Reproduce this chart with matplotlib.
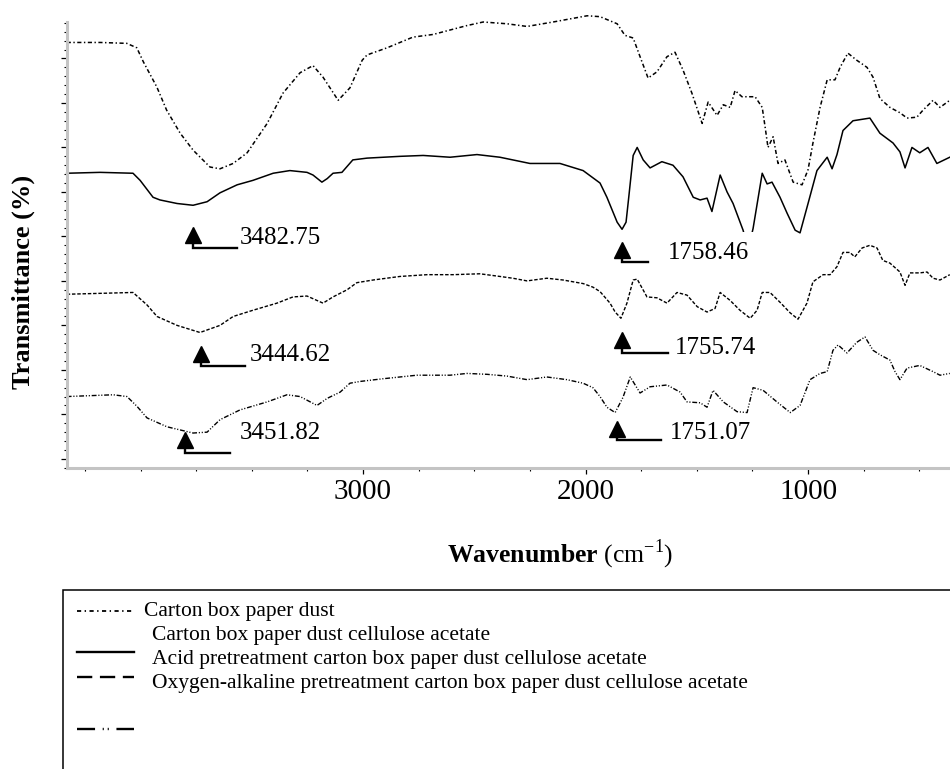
import matplotlib
matplotlib.use('Agg')
import matplotlib.pyplot as plt
from matplotlib.patches import Rectangle
from matplotlib.lines import Line2D
from matplotlib.ticker import MultipleLocator, FixedLocator

# FTIR spectra, values (offset transmittance, arbitrary units)
wn_dust = [4332, 4182, 4062, 4017, 3987, 3927, 3883, 3822, 3764, 3688, 3643, 3584, 3521, 3431, 3360,
           3283, 3225, 3180, 3112, 3059, 3004, 2982, 2892, 2776, 2685, 2533, 2460, 2353, 2263, 2146,
           1993, 1935, 1858, 1823, 1786, 1755, 1719, 1679, 1634, 1598, 1562, 1522, 1476, 1449, 1409,
           1381, 1350, 1328, 1297, 1238, 1206, 1193, 1180, 1157, 1135, 1104, 1067, 1027, 1000, 978,
           946, 914, 879, 856, 821, 781, 735, 708, 677, 632, 587, 555, 511, 483, 438, 407, 363]
t_dust = [46.8, 46.8, 46.7, 46.2, 44.6, 41.8, 39.2, 36.6, 34.7, 32.8, 32.6, 33.2, 34.4, 37.7, 41.1,
          43.4, 44.2, 42.9, 40.3, 41.7, 44.8, 45.4, 46.2, 47.4, 47.7, 48.7, 49.1, 48.9, 48.6, 49.1,
          49.8, 49.7, 48.9, 47.6, 47.3, 45.2, 42.8, 43.5, 45.2, 45.7, 43.7, 41.1, 37.7, 40.1, 38.6,
          39.8, 39.5, 41.4, 40.7, 40.7, 39.5, 37.3, 35.0, 36.2, 33.2, 33.6, 31.1, 30.8, 32.5, 35.5,
          39.5, 42.6, 42.6, 44.0, 45.6, 44.8, 44.0, 42.9, 40.5, 39.5, 38.9, 38.3, 38.4, 39.2, 40.3, 39.5, 40.3]

wn_ca = [4332, 4182, 4034, 4002, 3944, 3913, 3836, 3764, 3701, 3643, 3566, 3495, 3404, 3329, 3252,
         3225, 3185, 3161, 3135, 3095, 3046, 2982, 2834, 2730, 2609, 2488, 2385, 2250, 2115, 2011,
         1935, 1904, 1858, 1836, 1818, 1805, 1786, 1768, 1741, 1710, 1657, 1607, 1562, 1516, 1485,
         1454, 1432, 1395, 1364, 1337, 1292, 1269, 1247, 1206, 1184, 1162, 1126, 1094, 1058, 1036,
         1000, 960, 914, 892, 870, 843, 798, 722, 677, 618, 587, 564, 533, 498, 461, 421, 363]
t_ca = [32.1, 32.2, 32.1, 31.3, 29.4, 29.1, 28.7, 28.5, 28.9, 29.9, 30.8, 31.3, 32.1, 32.4, 32.2,
        31.9, 31.1, 31.5, 32.1, 32.2, 33.6, 33.8, 34.0, 34.1, 33.9, 34.2, 33.9, 33.2, 33.2, 32.4,
        31.0, 29.4, 26.6, 25.8, 26.6, 29.6, 34.1, 35.0, 33.6, 32.7, 33.4, 33.0, 31.7, 29.4, 29.1,
        29.3, 27.8, 31.9, 30.0, 28.7, 25.7, 23.5, 25.9, 32.1, 30.9, 31.1, 29.4, 27.6, 25.7, 25.4,
        28.7, 32.4, 33.9, 32.6, 34.2, 36.9, 38.0, 38.3, 36.6, 35.5, 34.5, 32.7, 35.0, 34.4, 35.0, 33.2, 33.9]

wn_acid = [4332, 4182, 4034, 3971, 3926, 3836, 3733, 3643, 3584, 3495, 3387, 3315, 3252, 3180, 3135,
           3072, 3028, 2955, 2834, 2712, 2595, 2475, 2385, 2327, 2263, 2174, 2101, 2011, 1967, 1935,
           1890, 1867, 1841, 1814, 1786, 1768, 1724, 1679, 1634, 1589, 1544, 1498, 1454, 1418, 1395,
           1350, 1306, 1260, 1229, 1206, 1171, 1126, 1080, 1045, 1005, 978, 932, 901, 870, 843,
           812, 790, 757, 722, 690, 664, 632, 587, 564, 542, 498, 465, 438, 407, 363]
t_acid = [18.5, 18.6, 18.7, 17.3, 16.0, 15.0, 14.2, 15.0, 16.0, 16.7, 17.5, 18.2, 18.3, 17.5, 18.2,
          19.0, 19.8, 20.1, 20.5, 20.7, 20.7, 20.8, 20.5, 20.3, 20.0, 20.3, 20.1, 19.7, 19.3, 18.8,
          17.5, 16.5, 15.8, 17.5, 20.1, 20.2, 18.2, 18.1, 17.5, 18.7, 18.4, 17.1, 16.5, 16.9, 18.7,
          17.8, 16.7, 15.8, 16.7, 18.7, 18.7, 17.6, 16.4, 15.7, 17.5, 19.9, 20.7, 20.7, 21.6, 23.2,
          23.2, 22.7, 23.7, 24.0, 23.7, 22.3, 22.0, 21.0, 19.5, 20.9, 20.9, 21.0, 20.3, 20.1, 20.7]

wn_oxy = [4332, 4123, 4061, 4016, 3971, 3881, 3764, 3701, 3643, 3553, 3431, 3342, 3283, 3207, 3161,
          3103, 3059, 3013, 2911, 2758, 2609, 2533, 2443, 2353, 2263, 2174, 2084, 2011, 1967, 1935,
          1904, 1867, 1832, 1799, 1755, 1710, 1634, 1575, 1544, 1485, 1454, 1427, 1381, 1319, 1274,
          1247, 1202, 1140, 1080, 1036, 991, 946, 914, 888, 865, 825, 781, 744, 708, 677,
          632, 609, 587, 555, 498, 438, 407, 363]
t_oxy = [7.0, 7.2, 7.0, 5.9, 4.6, 3.6, 2.9, 3.0, 4.4, 5.5, 6.4, 7.2, 7.0, 6.0, 6.8,
         7.5, 8.5, 8.7, 9.0, 9.4, 9.4, 9.6, 9.5, 9.3, 8.9, 9.2, 8.9, 8.5, 8.0, 7.0,
         5.8, 5.2, 6.9, 9.2, 7.4, 8.1, 8.3, 7.5, 6.4, 6.3, 5.8, 7.7, 6.4, 5.3, 5.2,
         8.0, 7.7, 6.4, 5.2, 6.0, 8.9, 9.6, 9.8, 12.2, 12.8, 11.9, 13.1, 13.7, 12.2, 11.7,
         11.1, 9.8, 8.9, 10.2, 10.5, 9.8, 9.4, 9.6]

# peak markers: triangle, elbow of the leader line, label
peak_labels = ['3482.75', '3444.62', '3451.82', '1758.46', '1755.74', '1751.07']
mark_wn = [3764, 3729, 3800, 1836, 1836, 1858]
mark_t = [25.2, 11.8, 2.1, 23.5, 13.4, 3.4]
elbow_wn = [3566, 3530, 3597, 1719, 1629, 1660]
elbow_t = [23.7, 10.4, 0.7, 22.1, 11.9, 2.1]
label_wn = [3553, 3508, 3553, 1629, 1598, 1620]
label_t = [24.8, 11.7, 2.9, 23.1, 12.5, 2.9]

legend_labels = ['Carton box paper dust',
                 'Carton box paper dust cellulose acetate',
                 'Acid pretreatment carton box paper dust cellulose acetate',
                 'Oxygen-alkaline pretreatment carton box paper dust cellulose acetate']

plt.rcParams['font.family'] = ['Liberation Serif', 'DejaVu Serif']
plt.rcParams['mathtext.fontset'] = 'custom'
plt.rcParams['mathtext.rm'] = 'Liberation Serif'
plt.rcParams['mathtext.bf'] = 'Liberation Serif:bold'
plt.rcParams['lines.scale_dashes'] = False

W, H = 950, 769
fig = plt.figure(figsize=(W / 100, H / 100), dpi=100)
ax = fig.add_axes([66.7 / W, 1 - 468 / H, (W - 66.7) / W, 446 / H])

ax.plot(wn_dust, t_dust, color='black', lw=1.1, dashes=(3, 1.8, 1, 1.8), clip_on=False)
ax.plot(wn_ca, t_ca, color='black', lw=1.1, clip_on=False)
ax.plot(wn_acid, t_acid, color='black', lw=1.0, dashes=(2.5, 1.3), clip_on=False)
ax.plot(wn_oxy, t_oxy, color='black', lw=1.0, dashes=(3.5, 1.3, 0.8, 1.3, 0.8, 1.3), clip_on=False)

for i, lab in enumerate(peak_labels):
    ax.plot([mark_wn[i], mark_wn[i], elbow_wn[i]], [mark_t[i], elbow_t[i], elbow_t[i]],
            color='black', lw=1.7, solid_joinstyle='miter')
    ax.plot([mark_wn[i]], [mark_t[i]], marker='^', ms=11, color='black')
    box = None
    if lab == '1758.46':
        box = dict(boxstyle='square,pad=0.4', facecolor='white', edgecolor='none')
    ax.text(label_wn[i], label_t[i], lab, fontsize=18, ha='left', va='center', bbox=box, zorder=5)

ax.set_xlim(4332, 362)
ax.set_ylim(-1.03, 49.1)
ax.xaxis.set_major_locator(FixedLocator([3000, 2000, 1000]))
ax.xaxis.set_minor_locator(MultipleLocator(250))
ax.yaxis.set_major_locator(MultipleLocator(5))
ax.yaxis.set_minor_locator(MultipleLocator(1))
ax.tick_params(which='both', direction='out', color='black')
ax.tick_params(which='major', length=4.3, width=0.9, labelsize=21, pad=3.6)
ax.tick_params(which='minor', length=2.5, width=0.8)
ax.tick_params(axis='y', which='both', labelleft=False)
for sp in ['top', 'right']:
    ax.spines[sp].set_visible(False)
for sp in ['left', 'bottom']:
    ax.spines[sp].set_color('#c4c4c4')
    ax.spines[sp].set_linewidth(2.2)

fig.text(560 / W, 1 - 562 / H, r'$\mathbf{Wavenumber}$ (cm$^{-1}$)', ha='center', va='baseline', fontsize=18.5)
fig.text(23 / W, 1 - 282 / H, 'Transmittance (%)', rotation=90, fontweight='bold', fontsize=19,
         ha='center', va='center')

# legend box (runs off the bottom and right of the picture)
fig.add_artist(Rectangle((63 / W, -0.1), 1.0, 0.1 + 1 - 590 / H, transform=fig.transFigure,
                         fill=False, edgecolor='black', lw=1.1))
sample_y = [611, 652, 677, 729]
sample_style = [dict(lw=1.3, dashes=(3, 2.5, 1, 2.5)),
                dict(lw=1.7),
                dict(lw=1.7, dashes=(11, 5.5)),
                dict(lw=1.7, dashes=(13, 5.5, 0.8, 2.8, 0.8, 5.5))]
for y, st in zip(sample_y, sample_style):
    fig.add_artist(Line2D([77 / W, 134 / W], [1 - y / H, 1 - y / H], transform=fig.transFigure,
                          color='black', **st))
text_x = [144, 152, 152, 152]
text_y = [616, 640, 664, 688]
for lab, x, y in zip(legend_labels, text_x, text_y):
    fig.text(x / W, 1 - y / H, lab, fontsize=15.5, ha='left', va='baseline')

fig.savefig('out.png', dpi=100)
